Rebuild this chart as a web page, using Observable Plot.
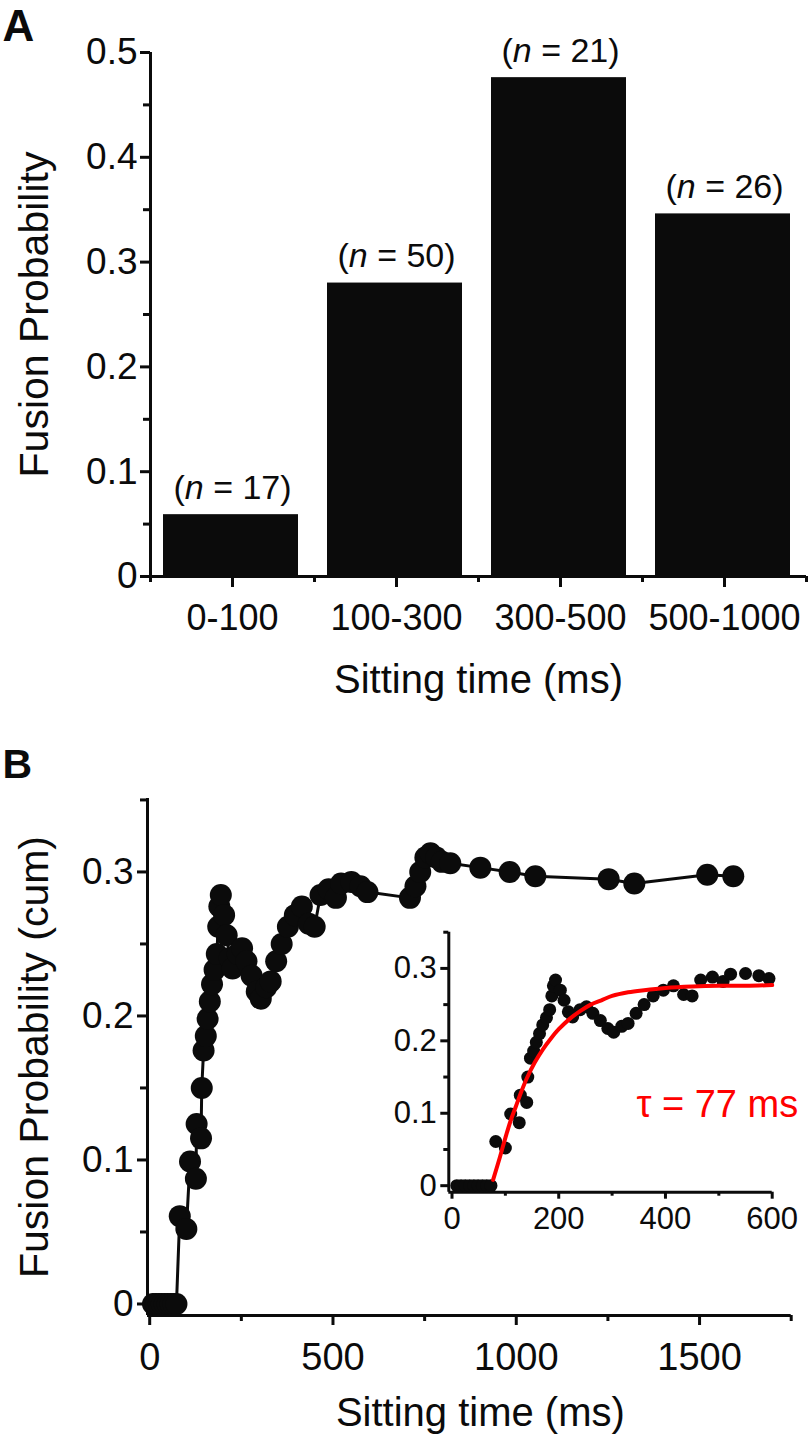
<!DOCTYPE html>
<html>
<head>
<meta charset="utf-8">
<script src="https://cdn.jsdelivr.net/npm/d3@7"></script>
<script src="https://cdn.jsdelivr.net/npm/@observablehq/plot@0.6"></script>
<style>
  html, body { margin: 0; padding: 0; background: #fff; }
  #wrap { position: relative; width: 808px; height: 1441px; overflow: hidden; font-family: "Liberation Sans", Arial, Helvetica, sans-serif; }
  #wrap > svg, #wrap > figure { position: absolute; margin: 0; }
</style>
</head>
<body>
<div id="wrap"></div>
<script>
// ---------- Panel A data ----------
const categories = ["0-100", "100-300", "300-500", "500-1000"];
const fusionProb = [0.059, 0.28, 0.476, 0.346];
const nCounts = [17, 50, 21, 26];
const yTicksA = [0, 0.1, 0.2, 0.3, 0.4, 0.5];
const yMinorA = [0.05, 0.15, 0.25, 0.35, 0.45];
const xLabel = "Sitting time (ms)";
const yLabelA = "Fusion Probability";

// ---------- Panel B data ----------
const sitTime = [9, 17, 25, 33, 41, 49, 57, 65, 73,
  82, 100, 110, 126, 128, 140, 142, 147, 153, 158, 164, 170, 177, 183, 187, 190, 194,
  203, 210, 218, 226, 240, 252, 264, 278, 292, 303, 318, 330, 345, 360, 377, 396, 415,
  434, 450, 466, 488, 508, 522, 550, 575, 594,
  710, 725, 738, 752, 766, 782, 797, 820, 902, 982, 1052, 1252, 1322, 1521, 1592];
const cumProb = [0, 0, 0, 0, 0, 0, 0, 0, 0,
  0.061, 0.052, 0.099, 0.087, 0.125, 0.115, 0.15, 0.176, 0.186, 0.198, 0.21, 0.222, 0.232, 0.243, 0.262, 0.276, 0.284,
  0.27, 0.256, 0.24, 0.233, 0.243, 0.247, 0.238, 0.228, 0.217, 0.212, 0.22, 0.224, 0.238, 0.25, 0.262, 0.27, 0.276,
  0.264, 0.262, 0.284, 0.288, 0.282, 0.292, 0.293, 0.29, 0.286,
  0.282, 0.29, 0.3, 0.31, 0.313, 0.31, 0.307, 0.306, 0.303, 0.3, 0.297, 0.295, 0.292, 0.298, 0.297];
const fitTime = [77, 90, 100, 110, 120, 130, 140, 155, 170, 185, 200, 220, 240, 260, 280, 300, 330, 360, 400, 450, 500, 550, 600];
const fitProb = [0.008, 0.04, 0.066, 0.09, 0.11, 0.13, 0.148, 0.17, 0.188, 0.203, 0.216, 0.23, 0.241, 0.25, 0.256, 0.262, 0.267, 0.27, 0.273, 0.275, 0.276, 0.276, 0.277];
const xTicksB = [0, 500, 1000, 1500];
const xMinorB = [250, 750, 1250, 1750];
const yTicksB = [0, 0.1, 0.2, 0.3];
const yMinorB = [0.05, 0.15, 0.25, 0.35];
const insetXTicks = [0, 200, 400, 600];
const insetXMinor = [100, 300, 500];
const insetYTicks = [0, 0.1, 0.2, 0.3];
const insetYMinor = [0.05, 0.15, 0.25, 0.35];
const yLabelB = "Fusion Probability (cum)";
const tauLabel = "τ = 77 ms";

const INK = "#0b0b0b";
const RED = "#ff0000";
const FONT = '"Liberation Sans", Arial, Helvetica, sans-serif';
const wrap = document.getElementById("wrap");

function place(node, left, top) {
  node.style.left = left + "px";
  node.style.top = top + "px";
  wrap.appendChild(node);
}

// ---------- Panel A ----------
const bars = categories.map((c, i) => ({i, cat: c, p: fusionProb[i], n: nCounts[i]}));

const chartA = Plot.plot({
  width: 808, height: 720,
  marginLeft: 150, marginRight: 2, marginTop: 52, marginBottom: 144,
  style: {fontFamily: FONT, color: INK, background: "transparent", overflow: "visible"},
  x: {domain: [0, categories.length], axis: null},
  y: {domain: [0, 0.5], axis: null},
  marks: [
    Plot.rectY(bars, {x1: "i", x2: d => d.i + 1, y: "p", insetLeft: 13, insetRight: 16, fill: INK}),
    Plot.axisY({ticks: yTicksA, label: null, tickSize: 10, tickPadding: 3, fontSize: 37, strokeWidth: 3, tickFormat: d => String(d)}),
    Plot.axisY({ticks: yMinorA, label: null, tickSize: 7, strokeWidth: 3, tickFormat: () => ""}),
    Plot.axisX({ticks: categories.map((c, i) => i + 0.5), label: null, tickSize: 11, tickPadding: 17, fontSize: 36, strokeWidth: 3,
      tickFormat: v => categories[Math.floor(v)]}),
    Plot.axisX({ticks: categories.map((c, i) => i).concat([categories.length]), label: null, tickSize: 6, strokeWidth: 3, tickFormat: () => ""}),
    Plot.ruleY([0], {strokeWidth: 3, stroke: INK}),
    Plot.ruleX([0], {strokeWidth: 3, stroke: INK}),
    Plot.text(bars, {x: d => d.i + 0.5, y: "p", text: d => `(n = ${d.n})`, dy: -27, lineAnchor: "middle", fontSize: 34, fill: INK, className: "nlabel"}),
    Plot.text([yLabelA], {text: d => d, frameAnchor: "left", textAnchor: "middle", lineAnchor: "middle", rotate: -90, dx: -116, fontSize: 41, fill: INK}),
    Plot.text([xLabel], {text: d => d, frameAnchor: "bottom", textAnchor: "middle", lineAnchor: "middle", dy: 104, fontSize: 40, fill: INK}),
    Plot.text(["A"], {text: d => d, frameAnchor: "top-left", textAnchor: "start", lineAnchor: "middle", dx: -148, dy: -26, fontSize: 44, fontWeight: "bold", fill: INK})
  ]
});
place(chartA, 0, 0);

// italic n in the sample-size labels
chartA.querySelectorAll(".nlabel text").forEach(t => {
  const s = t.textContent;
  const m = s.match(/^\(n = (.*)\)$/);
  if (!m) return;
  while (t.firstChild) t.removeChild(t.firstChild);
  t.appendChild(document.createTextNode("("));
  const it = document.createElementNS("http://www.w3.org/2000/svg", "tspan");
  it.setAttribute("font-style", "italic");
  it.textContent = "n";
  t.appendChild(it);
  t.appendChild(document.createTextNode(" = " + m[1] + ")"));
});

// ---------- Panel B ----------
const series = sitTime.map((t, i) => ({t, p: cumProb[i]}));
const fit = fitTime.map((t, i) => ({t, p: fitProb[i]}));

const chartB = Plot.plot({
  width: 808, height: 721,
  marginLeft: 147, marginRight: 17.3, marginTop: 78, marginBottom: 126,
  style: {fontFamily: FONT, color: INK, background: "transparent", overflow: "visible"},
  x: {domain: [-6, 1750], axis: null},
  y: {domain: [-0.008, 0.351], axis: null},
  marks: [
    Plot.axisY({ticks: yTicksB, label: null, tickSize: 10, tickPadding: 4, fontSize: 37, strokeWidth: 3, tickFormat: d => String(d)}),
    Plot.axisY({ticks: yMinorB, label: null, tickSize: 7, strokeWidth: 3, tickFormat: () => ""}),
    Plot.axisX({ticks: xTicksB, label: null, tickSize: 10, tickPadding: 18, fontSize: 38, strokeWidth: 3, tickFormat: d => String(d)}),
    Plot.axisX({ticks: xMinorB, label: null, tickSize: 6, strokeWidth: 3, tickFormat: () => ""}),
    Plot.ruleY([-0.008], {strokeWidth: 3, stroke: INK}),
    Plot.ruleX([-6], {strokeWidth: 3, stroke: INK}),
    Plot.line(series, {x: "t", y: "p", stroke: INK, strokeWidth: 3}),
    Plot.dot(series, {x: "t", y: "p", r: 11, fill: INK}),
    Plot.text([yLabelB], {text: d => d, frameAnchor: "left", textAnchor: "middle", lineAnchor: "middle", rotate: -90, dx: -113, fontSize: 41, fill: INK}),
    Plot.text([xLabel], {text: d => d, frameAnchor: "bottom", textAnchor: "middle", lineAnchor: "middle", dx: 11, dy: 98, fontSize: 40, fill: INK}),
    Plot.text(["B"], {text: d => d, frameAnchor: "top-left", textAnchor: "start", lineAnchor: "middle", dx: -145, dy: -34, fontSize: 41, fontWeight: "bold", fill: INK})
  ]
});
place(chartB, 0, 720);

// ---------- Inset ----------
const insetSeries = series.filter(d => d.t <= 600);
const inset = Plot.plot({
  width: 448, height: 342,
  marginLeft: 88.3, marginRight: 36.3, marginTop: 31.7, marginBottom: 50.3,
  style: {fontFamily: FONT, color: INK, background: "transparent", overflow: "visible"},
  x: {domain: [-6, 600], axis: null},
  y: {domain: [-0.009, 0.35], axis: null},
  marks: [
    Plot.axisY({ticks: insetYTicks, label: null, tickSize: 8, tickPadding: 4, fontSize: 31, strokeWidth: 3, tickFormat: d => String(d)}),
    Plot.axisY({ticks: insetYMinor, label: null, tickSize: 5, strokeWidth: 3, tickFormat: () => ""}),
    Plot.axisX({ticks: insetXTicks, label: null, tickSize: 7, tickPadding: 8, fontSize: 31, strokeWidth: 3, tickFormat: d => String(d)}),
    Plot.axisX({ticks: insetXMinor, label: null, tickSize: 4, strokeWidth: 3, tickFormat: () => ""}),
    Plot.ruleY([-0.009], {strokeWidth: 3, stroke: INK}),
    Plot.ruleX([-6], {strokeWidth: 3, stroke: INK}),
    Plot.dot(insetSeries, {x: "t", y: "p", r: 6.5, fill: INK}),
    Plot.line(fit, {x: "t", y: "p", stroke: RED, strokeWidth: 4, curve: "catmull-rom"}),
    Plot.text([tauLabel], {text: d => d, frameAnchor: "right", textAnchor: "end", lineAnchor: "middle", dx: 26, dy: 43, fontSize: 38, fill: RED})
  ]
});
place(inset, 360, 900);
</script>
</body>
</html>
